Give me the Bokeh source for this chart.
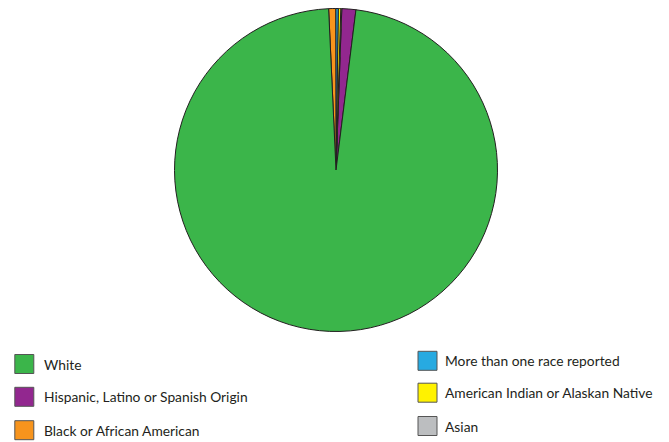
import numpy as np
from bokeh.plotting import figure
from bokeh.models import Range1d, ColumnDataSource
from bokeh.core.properties import value
from bokeh.embed import file_html
from bokeh.resources import INLINE

# Data (percent of population)
categories = ["White", "Hispanic, Latino or Spanish Origin", "Black or African American",
              "More than one race reported", "American Indian or Alaskan Native", "Asian"]
shares = [97.3, 1.4, 0.7, 0.25, 0.25, 0.1]
colors = ["#3BB54A", "#92278F", "#F7941D", "#27AAE1", "#FFF200", "#BCBEC0"]

# drawing order counter-clockwise from the start angle
draw_order = [1, 5, 4, 3, 2, 0]
start_deg = 82.9

W, H = 669, 442
p = figure(width=W, height=H, output_backend="svg", toolbar_location=None,
           x_range=Range1d(0, W), y_range=Range1d(0, H), min_border=0)
p.axis.visible = False
p.grid.visible = False
p.outline_line_color = None
p.background_fill_color = "white"
p.border_fill_color = "white"

vals = np.array([shares[i] for i in draw_order], dtype=float)
frac = vals / vals.sum() * 2 * np.pi
st = np.deg2rad(start_deg) + np.concatenate([[0], np.cumsum(frac)[:-1]])
en = st + frac
src = ColumnDataSource(dict(start=st, end=en, color=[colors[i] for i in draw_order]))
cx, cy, r = 335.5, H - 169.5, 161.5
p.wedge(x=cx, y=cy, radius=r, start_angle="start", end_angle="end", source=src,
        fill_color="color", line_color="#231F20", line_width=1)

# Legend (two columns)
leg_x = [23.8, 23.8, 23.8, 427, 427, 427]
leg_y = [363.5, 396.3, 429.7, 360.3, 392.2, 425.5]
txt_x = [43.5, 43.5, 43.5, 444.5, 444.5, 444.5]
lsrc = ColumnDataSource(dict(x=leg_x, y=[H - v for v in leg_y], tx=txt_x,
                             color=colors, label=categories))
p.rect(x="x", y="y", width=19, height=19, source=lsrc, fill_color="color",
       line_color="#555555", line_width=1)
p.text(x="tx", y="y", text="label", source=lsrc, text_font=value("Lato"),
       text_font_size="13.8px", text_baseline="middle", text_color="#231F20")

open("out.html", "w").write(file_html(p, INLINE))
